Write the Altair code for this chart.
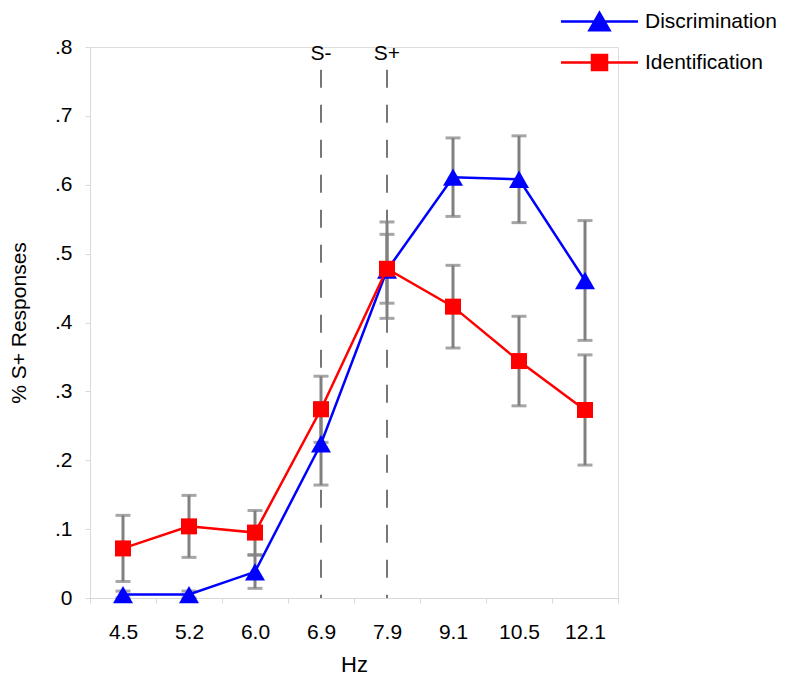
import altair as alt
import pandas as pd

hz = ["4.5", "5.2", "6.0", "6.9", "7.9", "9.1", "10.5", "12.1"]
disc = [0.005, 0.005, 0.038, 0.224, 0.476, 0.611, 0.608, 0.461]
disc_err = [0.005, 0.005, 0.024, 0.060, 0.070, 0.057, 0.063, 0.087]
ident = [0.072, 0.104, 0.095, 0.274, 0.478, 0.423, 0.344, 0.273]
ident_err = [0.048, 0.045, 0.032, 0.048, 0.050, 0.060, 0.065, 0.080]
series = ["Discrimination", "Identification"]
colors = ["#0000FF", "#FF0000"]
marker_hz = ["6.9", "7.9"]
marker_lbl = ["S-", "S+"]

rows = []
for s, vals, errs in [(series[0], disc, disc_err), (series[1], ident, ident_err)]:
    for h, v, e in zip(hz, vals, errs):
        rows.append({"hz": h, "series": s, "value": v, "lo": v - e, "hi": v + e})
df = pd.DataFrame(rows)
mk = pd.DataFrame({"hz": marker_hz, "label": marker_lbl, "top": [0.767, 0.767], "ty": [0.79, 0.79], "zero": [0, 0]})

FONT = "Liberation Sans"
ysc = alt.Scale(domain=[0, 0.8], nice=False, zero=True)
xenc = alt.X("hz:N", sort=hz, scale=alt.Scale(type="band", paddingInner=0, paddingOuter=0),
             axis=alt.Axis(title="Hz", labelAngle=0, tickBand="extent", labelFontSize=21, titleFontSize=22,
                           labelPadding=18, titlePadding=12, domainColor="#d8d8d8", tickColor="#d8d8d8",
                           tickSize=5, labelColor="black", titleColor="black", titleFontWeight="normal",
                           labelFont=FONT, titleFont=FONT, grid=False))
yaxis = alt.Axis(title="% S+ Responses", values=[0, 0.1, 0.2, 0.3, 0.4, 0.5, 0.6, 0.7, 0.8],
                 labelExpr="datum.value == 0 ? '0' : substring(format(datum.value, '.1f'), 1)",
                 labelFontSize=21, titleFontSize=21, labelPadding=13, titlePadding=25,
                 domainColor="#d8d8d8", tickColor="#d8d8d8", tickSize=5, labelColor="black",
                 titleColor="black", titleFontWeight="normal", labelFont=FONT, titleFont=FONT, grid=False)

base = alt.Chart(df)

dash = alt.Chart(mk).mark_rule(color="#555555", strokeWidth=1.6, strokeDash=[18, 17]).encode(
    x=xenc, y=alt.Y("top:Q", scale=ysc, axis=yaxis), y2="zero:Q")
stxt = alt.Chart(mk).mark_text(fontSize=21, font=FONT, color="black", baseline="middle").encode(
    x=alt.X("hz:N", sort=hz), y=alt.Y("ty:Q", scale=ysc), text="label:N")

err = base.mark_rule(color="#808080", strokeWidth=3).encode(
    x=alt.X("hz:N", sort=hz), y=alt.Y("lo:Q", scale=ysc), y2="hi:Q")
cap_lo = base.mark_tick(color="#808080", thickness=3, size=15, orient="horizontal").encode(
    x=alt.X("hz:N", sort=hz), y=alt.Y("lo:Q", scale=ysc))
cap_hi = base.mark_tick(color="#808080", thickness=3, size=15, orient="horizontal").encode(
    x=alt.X("hz:N", sort=hz), y=alt.Y("hi:Q", scale=ysc))

layers = [dash, stxt, err, cap_lo, cap_hi]
shapes = ["triangle-up", "square"]
sizes = [400, 256]
for s, c, sh, sz in zip(series, colors, shapes, sizes):
    sub = base.transform_filter(alt.datum.series == s)
    layers.append(sub.mark_line(color=c, strokeWidth=2.5).encode(
        x=alt.X("hz:N", sort=hz), y=alt.Y("value:Q", scale=ysc)))
    layers.append(sub.mark_point(shape=sh, filled=True, color=c, size=sz, opacity=1).encode(
        x=alt.X("hz:N", sort=hz), y=alt.Y("value:Q", scale=ysc)))

tri_path = "M-3.85,0H3.85M0,-0.866L1,0.866L-1,0.866Z"
sq_path = "M-3.85,0H3.85M-0.75,-0.75H0.75V0.75H-0.75Z"
leg = alt.Legend(title=None, orient="none", legendX=498, legendY=-37, padding=0,
                 symbolSize=400, symbolStrokeWidth=2.5, symbolOpacity=1, labelFontSize=21, labelFont=FONT,
                 labelColor="black", labelOffset=34, rowPadding=14)
legend_layer = base.mark_point(filled=True, size=0, strokeWidth=2.5).encode(
    x=alt.X("hz:N", sort=hz), y=alt.Y("value:Q", scale=ysc),
    fill=alt.Fill("series:N", scale=alt.Scale(domain=series, range=colors), legend=leg),
    stroke=alt.Stroke("series:N", scale=alt.Scale(domain=series, range=colors), legend=leg),
    shape=alt.Shape("series:N", scale=alt.Scale(domain=series, range=[tri_path, sq_path]), legend=leg),
)
layers.append(legend_layer)

chart = alt.layer(*layers).properties(
    width=528, height=551,
    autosize=alt.AutoSizeParams(type="none"),
    padding={"left": 82, "top": 39, "right": 174, "bottom": 86},
).configure_view(stroke=None).configure(background="white")

chart.save("out.html", embed_options={"renderer": "svg", "actions": False})
